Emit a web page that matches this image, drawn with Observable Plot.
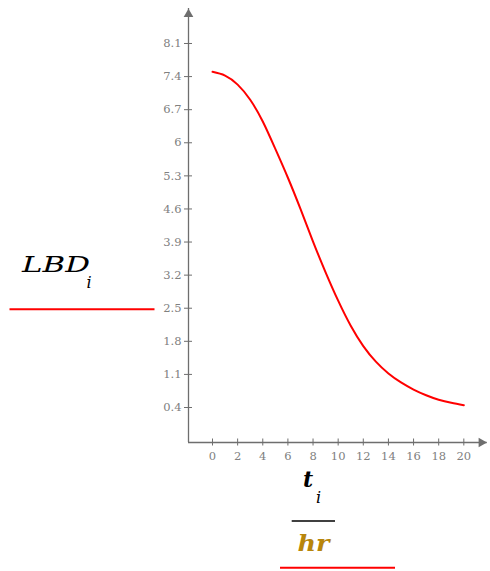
<!DOCTYPE html>
<html><head><meta charset="utf-8">
<script src="https://cdn.jsdelivr.net/npm/d3@7"></script>
<script src="https://cdn.jsdelivr.net/npm/@observablehq/plot@0.6"></script>
<style>html,body{margin:0;padding:0;background:#fff;overflow:hidden}</style>
</head><body><div id="chart"></div>
<script>
// data
const tValues = [0,1,2,3,4,5,6,7,8,9,10,11,12,13,14,15,16,17,18,19,20];
const lbdValues = [7.50,7.42,7.23,6.91,6.45,5.87,5.26,4.60,3.91,3.26,2.66,2.13,1.70,1.37,1.12,0.93,0.78,0.66,0.565,0.50,0.45];
const xTicks = [0,2,4,6,8,10,12,14,16,18,20];
const yTicks = [0.4,1.1,1.8,2.5,3.2,3.9,4.6,5.3,6,6.7,7.4,8.1];
const xDomain = [-1.91, 21.86];
const yDomain = [-0.34, 8.84];

const data = tValues.map((t,i)=>({t, v: lbdValues[i]}));
const gray = "#6e6e6e";
const labelGray = "#808080";

const plot = Plot.plot({
  width: 490, height: 571,
  marginLeft: 188, marginRight: 3.3, marginTop: 8, marginBottom: 129,
  style: {fontFamily: "DejaVu Serif", fontSize: "11.5px", background: "#fff", overflow: "visible"},
  x: {domain: xDomain, axis: null},
  y: {domain: yDomain, axis: null},
  marks: [
    Plot.ruleY([yDomain[0]], {x1: xDomain[0], x2: xDomain[1], stroke: gray, strokeWidth: 1.3, dx: 0}),
    Plot.ruleX([xDomain[0]], {y1: yDomain[0], y2: yDomain[1], stroke: gray, strokeWidth: 1.3}),
    Plot.axisX({ticks: xTicks, anchor: "bottom", label: null, tickSize: 7, dy: -3.5, tickPadding: 6, stroke: gray, fill: labelGray, tickFormat: d => String(d)}),
    Plot.axisY({ticks: yTicks, anchor: "left", label: null, tickSize: 8, dx: 4, tickPadding: 3, stroke: gray, fill: labelGray, tickFormat: d => String(d)}),
    Plot.dot([0], {x: () => xDomain[0], y: () => yDomain[1], symbol: "triangle", r: 3.6, fill: gray, stroke: "none", dy: 5.8}),
    Plot.dot([0], {x: () => xDomain[1], y: () => yDomain[0], symbol: "triangle", r: 3.6, fill: gray, stroke: "none", rotate: 90, dx: -5.8}),
    Plot.line(data, {x: "t", y: "v", stroke: "#ff0000", strokeWidth: 2, curve: "natural"})
  ]
});
document.getElementById("chart").appendChild(plot);

const svg = d3.select(plot);
const g = svg.append("g").attr("font-family", "DejaVu Serif").attr("text-anchor", "start");
// y label
g.append("text").attr("x", 22).attr("y", 271.5).attr("font-style", "italic").attr("font-size", 23)
  .attr("textLength", 68).attr("lengthAdjust", "spacingAndGlyphs").attr("fill", "#000").text("LBD");
g.append("text").attr("x", 86.5).attr("y", 288).attr("font-style", "italic").attr("font-size", 16).attr("fill", "#000").text("i");
g.append("line").attr("x1", 9.5).attr("x2", 154.5).attr("y1", 309.3).attr("y2", 309.3).attr("stroke", "#ff0000").attr("stroke-width", 2);
// x label
g.append("text").attr("x", 303).attr("y", 486.5).attr("font-style", "italic").attr("font-weight", "bold").attr("font-size", 22).attr("fill", "#000").text("t");
g.append("text").attr("x", 316).attr("y", 503).attr("font-style", "italic").attr("font-size", 16).attr("fill", "#000").text("i");
g.append("line").attr("x1", 291.7).attr("x2", 335).attr("y1", 521).attr("y2", 521).attr("stroke", "#000").attr("stroke-width", 1.5);
g.append("text").attr("x", 297.5).attr("y", 550.5).attr("font-style", "italic").attr("font-weight", "bold").attr("font-size", 22)
  .attr("textLength", 32).attr("lengthAdjust", "spacingAndGlyphs").attr("fill", "#b8860b").text("hr");
g.append("line").attr("x1", 280).attr("x2", 395).attr("y1", 567.7).attr("y2", 567.7).attr("stroke", "#ff0000").attr("stroke-width", 2);
</script></body></html>
